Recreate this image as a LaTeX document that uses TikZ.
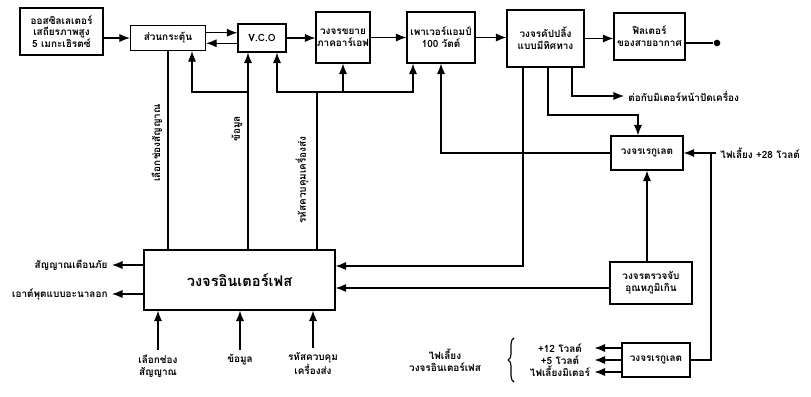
\documentclass[tikz,border=0pt]{standalone}
\usepackage{fontspec}
\setmainfont[Script=Thai]{Loma}
\usepackage{tikz}
\usetikzlibrary{arrows.meta,decorations.pathreplacing}

\begin{document}
\begin{tikzpicture}[x=0.03cm, y=-0.03cm, line width=1pt,
    font=\fontsize{8.5}{10}\selectfont\bfseries,
    blk/.style={draw, rectangle, align=center, inner sep=1pt},
    arr/.style={-{Latex[length=9pt,width=7pt]}}]
    \useasboundingbox (0,0) rectangle (811,397);

    \node (osc) [blk, minimum width=2.49cm, minimum height=1.41cm] at (61.5,31.5) {ออสซิลเลเตอร์\\เสถียรภาพสูง\\5 เมกะเฮิรตซ์};
    \node (exc) [blk, minimum width=2.25cm, minimum height=0.75cm] at (168,38) {ส่วนกระตุ้น};
    \node (vco) [blk, minimum width=1.44cm, minimum height=0.84cm] at (262,38) {V.C.O};
    \node (rfamp) [blk, minimum width=1.5cm, minimum height=1.53cm] at (343,37.5) {วงจรขยาย\\ภาคอาร์เอฟ};
    \node (pa) [blk, minimum width=2.04cm, minimum height=1.53cm] at (441,37.5) {เพาเวอร์แอมป์\\100 วัตต์};
    \node (coupler) [blk, minimum width=2.31cm, minimum height=1.71cm] at (545.5,38.5) {วงจรคัปปลิ้ง\\แบบมีทิศทาง};
    \node (filter) [blk, minimum width=2.13cm, minimum height=1.41cm] at (649.5,36.5) {ฟิลเตอร์\\ของสายอากาศ};
    \node (ant) [circle, fill, inner sep=2pt] at (717,43) {};
    \node (meter) [anchor=west] at (624,96) {ต่อกับมิเตอร์หน้าปัดเครื่อง};
    \node (reg1) [blk, minimum width=2.16cm, minimum height=1.02cm] at (647,153) {วงจรเรกูเลต};
    \node (sup) [anchor=west] at (716,153) {ไฟเลี้ยง +28 โวลต์};
    \node (temp) [blk, minimum width=2.46cm, minimum height=1.26cm] at (651,283) {วงจรตรวจจับ\\อุณหภูมิเกิน};
    \node (iface) [blk, minimum width=5.73cm, minimum height=1.8cm, font=\fontsize{12.5}{14}\selectfont\bfseries] at (239.5,280) {วงจรอินเตอร์เฟส};
    \node (reg2) [blk, minimum width=2.04cm, minimum height=1.02cm] at (656,360) {วงจรเรกูเลต};
    \node (supp) [align=center] at (560,360) {+12 โวลต์\\+5 โวลต์\\ไฟเลี้ยงมิเตอร์};
    \node (supif) [align=center] at (445,360) {ไฟเลี้ยง\\วงจรอินเตอร์เฟส};
    \node (alarm) [anchor=east] at (112,265) {สัญญาณเตือนภัย};
    \node (analog) [anchor=east] at (112,294) {เอาต์พุตแบบอะนาลอก};
    \node (inCh) [align=center] at (158,366) {เลือกช่อง\\สัญญาณ};
    \node (inData) [align=center] at (240,360) {ข้อมูล};
    \node (inCode) [align=center] at (313,364) {รหัสควบคุม\\เครื่องส่ง};
    \node (lbCh) [rotate=90] at (157,143) {เลือกช่องสัญญาณ};
    \node (lbData) [rotate=90] at (237,129) {ข้อมูล};
    \node (lbCode) [rotate=90] at (302,180) {รหัสควบคุมเครื่องส่ง};

    \coordinate (dJ) at (248,92);
    \coordinate (dE) at (192,92);
    \coordinate (cJ) at (317,92);
    \coordinate (cV) at (277,92);
    \coordinate (cP) at (413,92);
    \coordinate (kA) at (523,266);
    \coordinate (kB) at (548,115);
    \coordinate (kB2) at (638,115);
    \coordinate (kC) at (572,96);
    \coordinate (tA) at (610,288);
    \coordinate (sJ) at (711,153);

    \draw[arr] (osc.east |- exc) -- (exc.west);
    \draw[arr] ([yshift=4.5pt]exc.east) -- ([yshift=4.5pt]vco.west);
    \draw[arr] ([yshift=-4.5pt]vco.west) -- ([yshift=-4.5pt]exc.east);
    \draw[arr] (vco.east) -- (rfamp.west |- vco.east);
    \draw[arr] (rfamp.east) -- (pa.west);
    \draw[arr] (pa.east) -- (coupler.west |- pa.east);
    \draw[arr] (coupler.east) -- (filter.west |- coupler.east);
    \draw (filter.east |- ant) -- (ant);

    \draw (exc.south) -- (exc.south |- iface.north);
    \draw[arr] (iface.north -| dJ) -- (vco.south -| dJ);
    \draw[arr] (dJ) -- (dE) -- (exc.south -| dE);
    \draw (iface.north -| cJ) -- (cJ);
    \draw[arr] (cJ) -- (cV) -- (vco.south -| cV);
    \draw[arr] (cJ) -- (cP) -- (pa.south -| cP);
    \draw[arr] (rfamp.south |- cJ) -- (rfamp.south);

    \draw[arr] (coupler.south -| kA) -- (kA) -- (iface.east |- kA);
    \draw[arr] (coupler.south -| kB) -- (kB) -- (kB2) -- (reg1.north -| kB2);
    \draw[arr] (coupler.south -| kC) -- (kC) -- (meter.west);
    \draw[arr] (reg1.west) -| (pa.south);
    \draw[arr] (sup.west) -- (reg1.east);
    \draw (sJ) |- (reg2.east);
    \draw[arr] (temp.north -| reg1) -- (reg1.south);
    \draw[arr] (temp.west |- tA) -- (iface.east |- tA);

    \draw[arr] (iface.west |- alarm) -- (alarm.east);
    \draw[arr] (iface.west |- analog) -- (analog.east);
    \draw[arr] (inCh.north) -- (inCh.north |- iface.south);
    \draw[arr] (inData.north) -- (inData.north |- iface.south);
    \draw[arr] (inCode.north) -- (inCode.north |- iface.south);

    \draw[arr] ([yshift=0.36cm]reg2.west) -- ([yshift=0.36cm]reg2.west -| supp.east);
    \draw[arr] (reg2.west) -- (reg2.west -| supp.east);
    \draw[arr] ([yshift=-0.36cm]reg2.west) -- ([yshift=-0.36cm]reg2.west -| supp.east);
    \draw[decorate, decoration={brace, amplitude=5pt}] (514,382) -- (514,338);
\end{tikzpicture}
\end{document}
